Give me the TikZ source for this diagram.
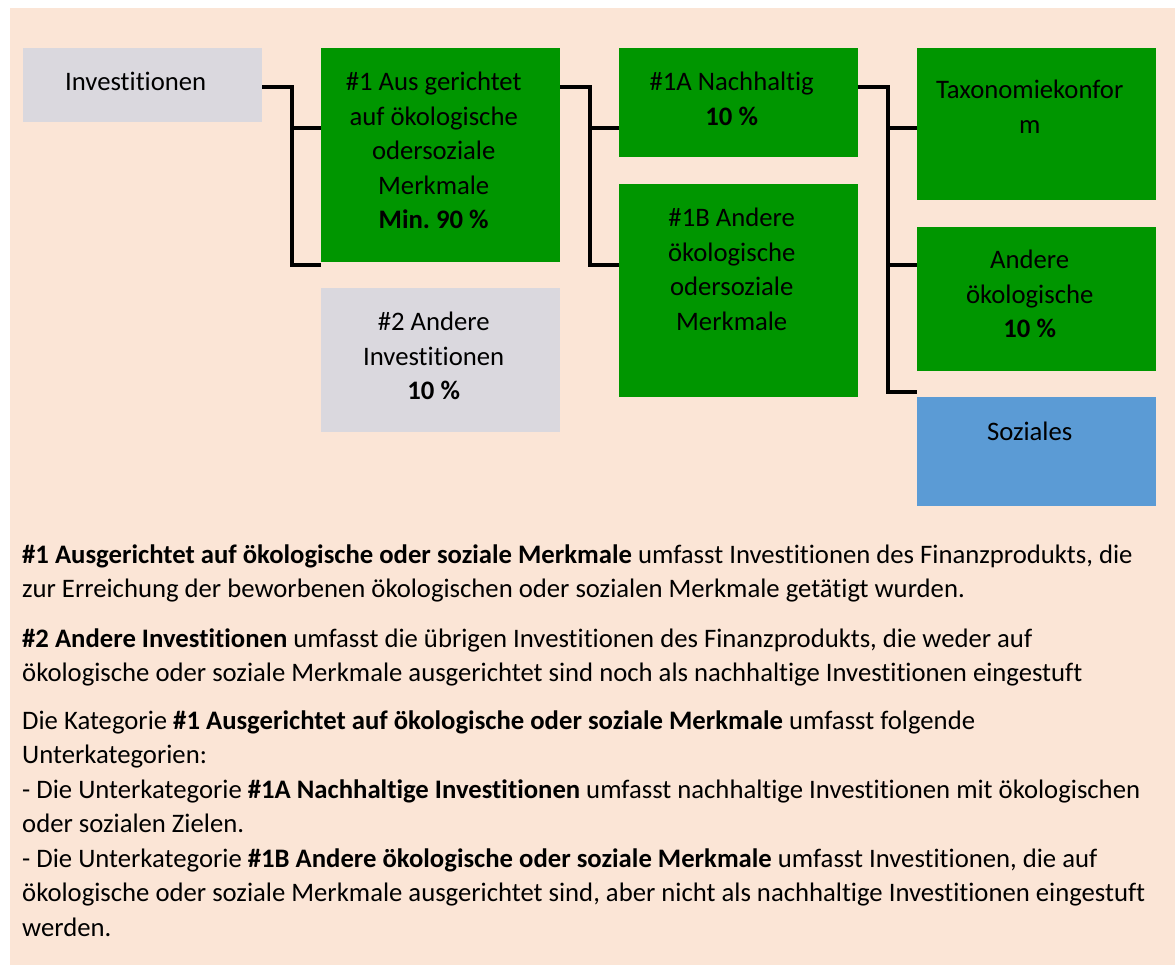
\documentclass[tikz,border=0pt]{standalone}
\usepackage{fontspec}
\setmainfont[Ligatures={NoCommon}]{Carlito}
\usetikzlibrary{calc}
\definecolor{peach}{HTML}{FBE5D6}
\definecolor{greybox}{HTML}{DAD8DE}
\definecolor{greenbox}{HTML}{009600}
\definecolor{bluebox}{HTML}{5B9BD5}
\newcommand{\mlc}[1]{\begin{tabular}[t]{@{}c@{}}#1\end{tabular}}
\newcommand{\mll}[1]{\begin{tabular}[t]{@{}l@{}}#1\end{tabular}}
\frenchspacing
\begin{document}
\begin{tikzpicture}[x=1pt,y=-1pt,
  box/.style={draw=none, inner sep=0pt, anchor=north west, minimum width=239pt},
  gbox/.style={box, fill=greenbox},
  txt/.style={inner sep=0pt, anchor=base, font=\fontsize{26.7}{34.5}\selectfont},
  body/.style={inner sep=0pt, anchor=base west, font=\fontsize{26.7}{34.5}\selectfont},
  conn/.style={line width=4pt, line join=miter}]
\useasboundingbox (0,0) rectangle (1175,965);
\fill[peach] (10,8) rectangle (1175,965);
% boxes
\node[box, fill=greybox, minimum height=74pt] (inv) at (23,48) {};
\node[gbox, minimum height=214pt] (n1) at (321,48) {};
\node[box, fill=greybox, minimum height=144pt] (n2) at (321,288) {};
\node[gbox, minimum height=109pt] (n1a) at (619,48) {};
\node[gbox, minimum height=213pt] (n1b) at (619,184) {};
\node[gbox, minimum height=152pt] (tax) at (917,48) {};
\node[gbox, minimum height=144pt] (and) at (917,227) {};
\node[box, fill=bluebox, minimum height=109pt] (soz) at (917,397) {};
% box texts
\node[txt] (tinv) at ($(inv.north)+(-7,43)$) {\mlc{Investitionen}};
\node[txt] (tn1) at ($(n1.north)+(-7,43)$) {\mlc{\#1 Aus gerichtet\\auf ökologische\\odersoziale\\Merkmale\\\textbf{Min. 90 \%}}};
\node[txt] (tn2) at ($(n2.north)+(-7,43)$) {\mlc{\#2 Andere\\Investitionen\\\textbf{10 \%}}};
\node[txt] (tn1a) at ($(n1a.north)+(-7,43)$) {\mlc{\#1A Nachhaltig\\\textbf{10 \%}}};
\node[txt] (tn1b) at ($(n1b.north)+(-7,43)$) {\mlc{\#1B Andere\\ökologische\\odersoziale\\Merkmale}};
\node[txt] (ttax) at ($(tax.north)+(-7,51)$) {\mlc{Taxonomiekonfor\\m}};
\node[txt] (tand) at ($(and.north)+(-7,42)$) {\mlc{Andere\\ökologische\\\textbf{10 \%}}};
\node[txt] (tsoz) at ($(soz.north)+(-7,43)$) {\mlc{Soziales}};
% connectors
\coordinate (a1) at (291.5,87);
\coordinate (a2) at (291.5,128);
\coordinate (a3) at (291.5,265);
\coordinate (e2) at (321,265);
\draw[conn] (inv.east |- a1) -- (a1) -- (a3) -- (e2);
\draw[conn] (a2) -- (a2 -| n1.west);
\coordinate (b1) at (589.5,87);
\coordinate (b2) at (589.5,128);
\coordinate (b3) at (589.5,265);
\draw[conn] (n1.east |- b1) -- (b1) -- (b3) -- (b3 -| n1b.west);
\draw[conn] (b2) -- (b2 -| n1a.west);
\coordinate (c1) at (887.5,87);
\coordinate (c2) at (887.5,128);
\coordinate (c3) at (887.5,265);
\coordinate (c4) at (887.5,392);
\coordinate (e4) at (917,392);
\draw[conn] (n1a.east |- c1) -- (c1) -- (c4) -- (e4);
\draw[conn] (c2) -- (c2 -| tax.west);
\draw[conn] (c3) -- (c3 -| and.west);
% explanatory text
\node[body] (p1) at (22,563) {\mll{\textbf{\#1 Ausgerichtet auf ökologische oder soziale Merkmale} umfasst Investitionen des Finanzprodukts, die\\zur Erreichung der beworbenen ökologischen oder sozialen Merkmale getätigt wurden.}};
\node[body] (p2) at (22,647) {\mll{\textbf{\#2 Andere Investitionen} umfasst die übrigen Investitionen des Finanzprodukts, die weder auf\\ökologische oder soziale Merkmale ausgerichtet sind noch als nachhaltige Investitionen eingestuft}};
\node[body] (p3) at (22,729) {\mll{Die Kategorie \textbf{\#1 Ausgerichtet auf ökologische oder soziale Merkmale} umfasst folgende\\Unterkategorien:\\- Die Unterkategorie \textbf{\#1A Nachhaltige Investitionen} umfasst nachhaltige Investitionen mit ökologischen\\oder sozialen Zielen.\\- Die Unterkategorie \textbf{\#1B Andere ökologische oder soziale Merkmale} umfasst Investitionen, die auf\\ökologische oder soziale Merkmale ausgerichtet sind, aber nicht als nachhaltige Investitionen eingestuft\\werden.}};
\end{tikzpicture}
\end{document}
